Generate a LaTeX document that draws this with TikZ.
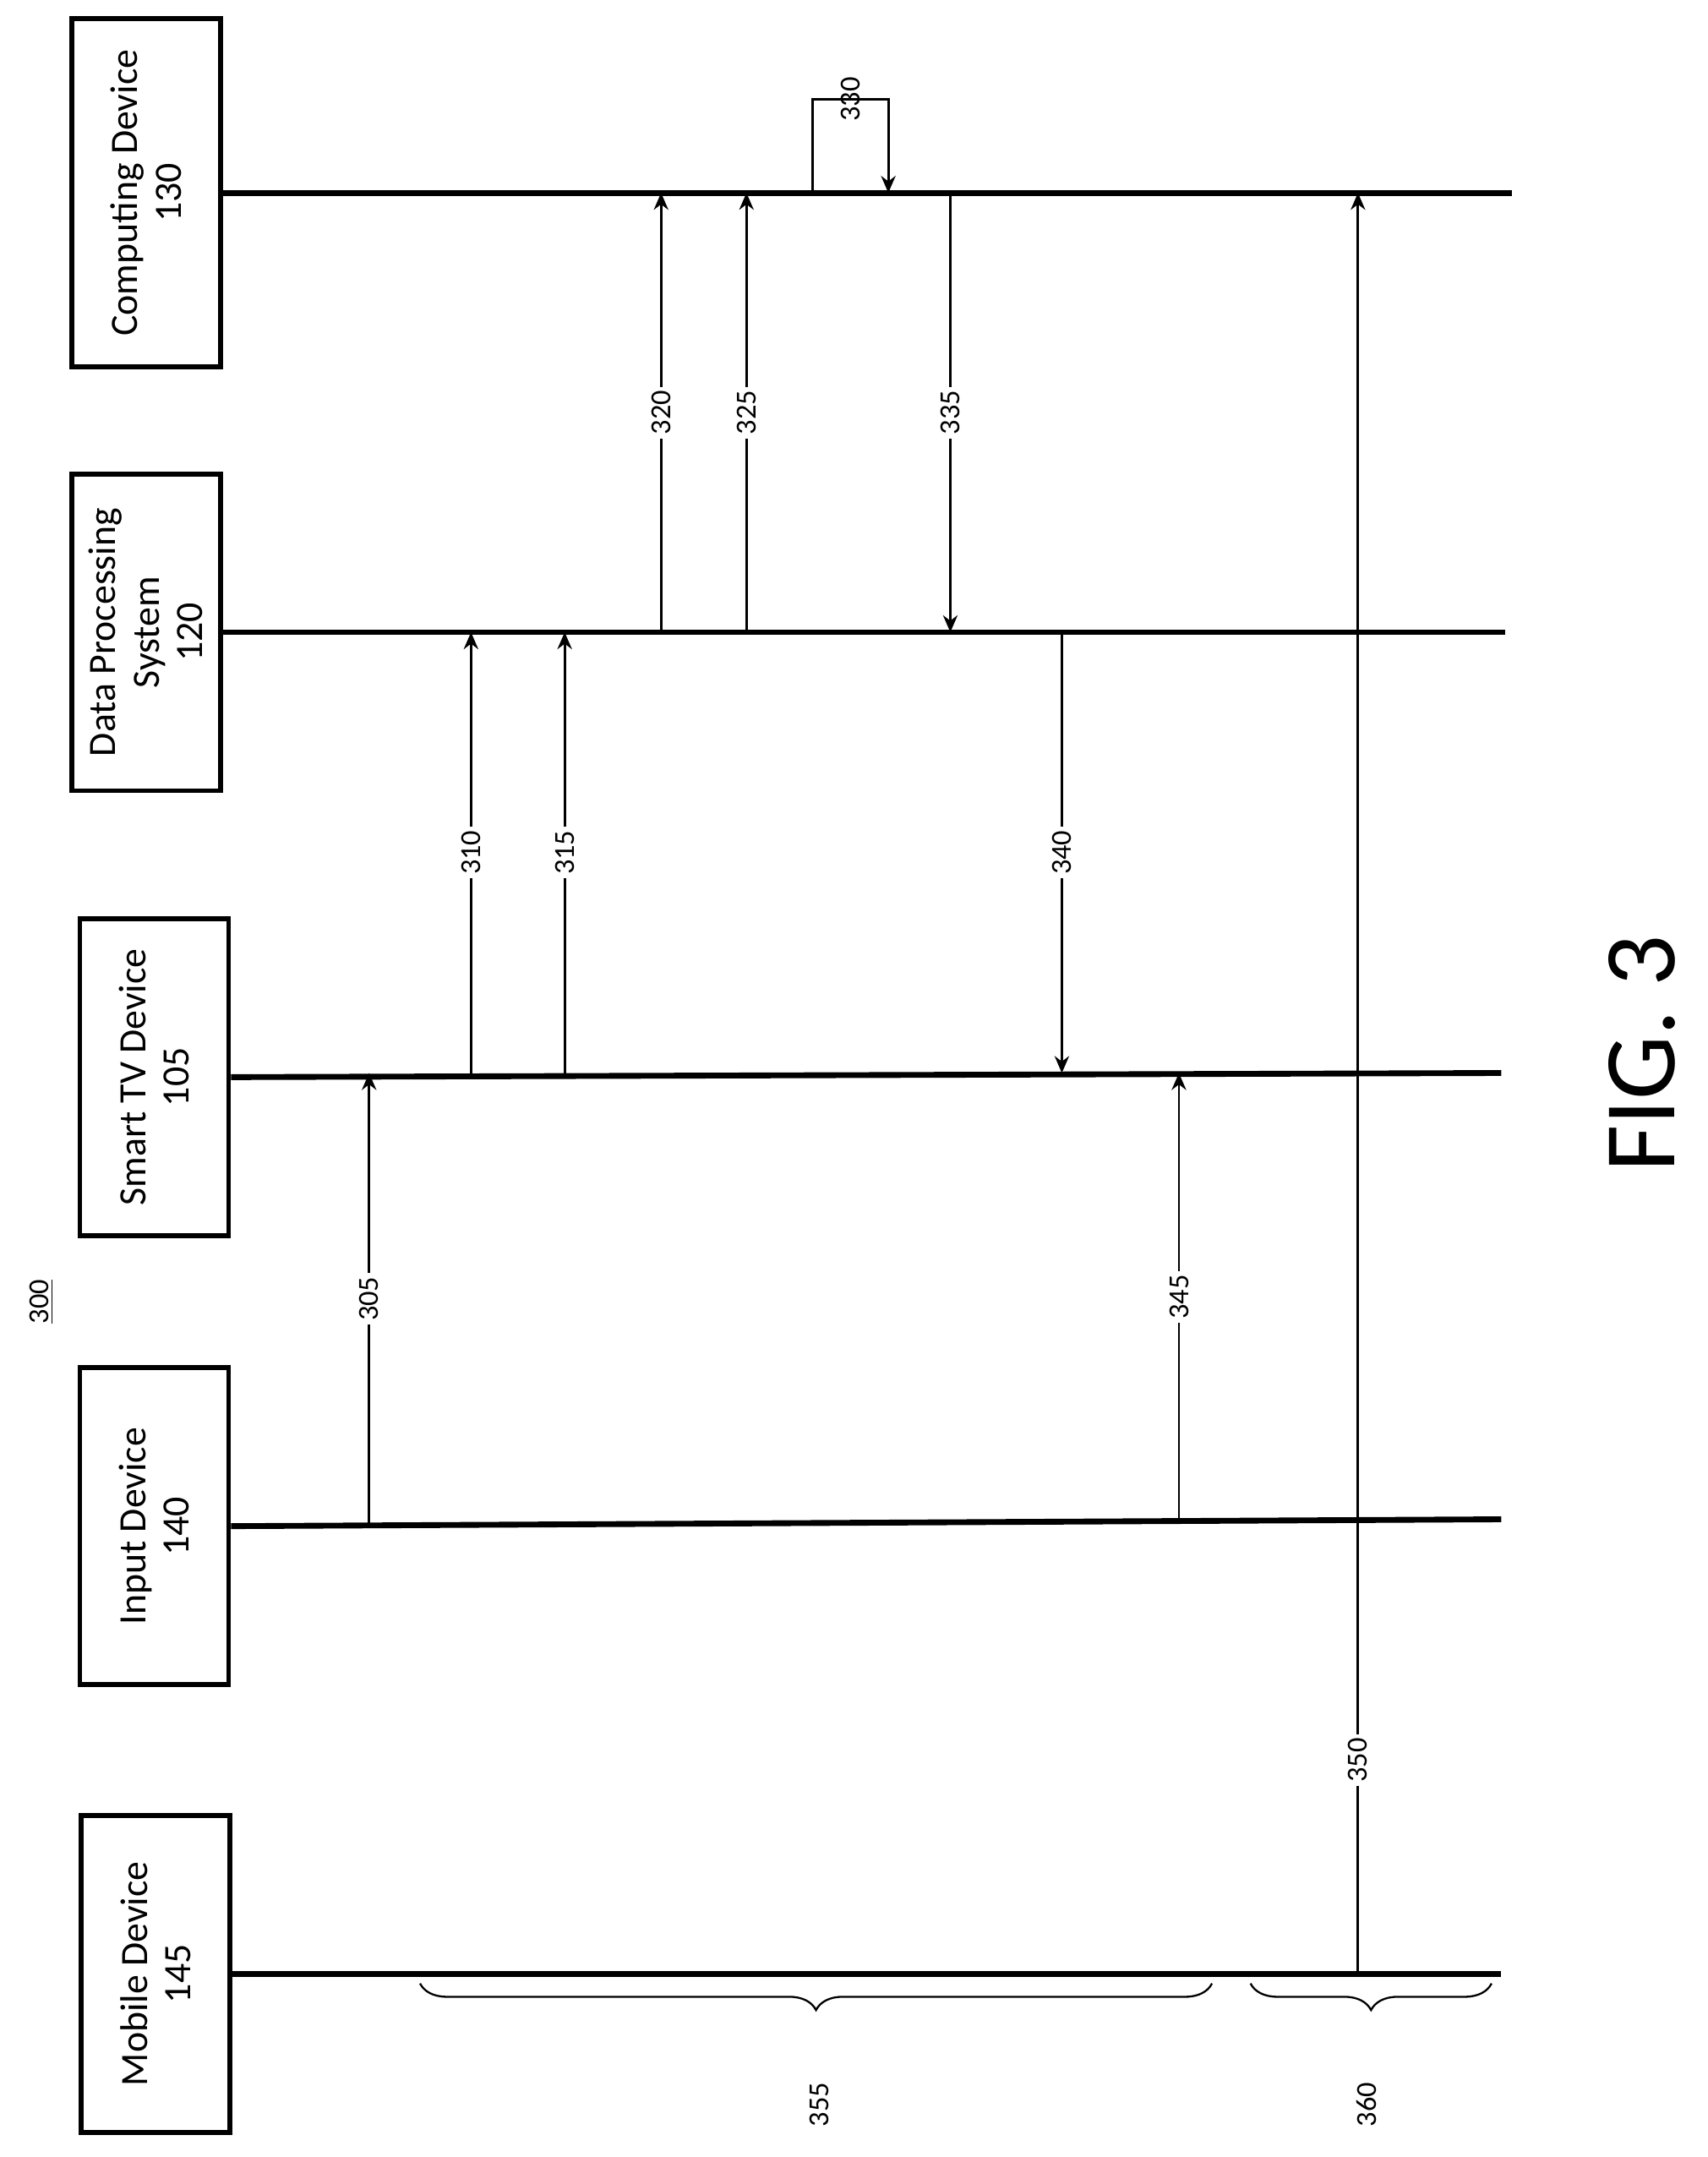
\documentclass[tikz,border=0pt]{standalone}
\usepackage{fontspec}
\setmainfont{Carlito}
\usetikzlibrary{arrows.meta,positioning,decorations.pathreplacing}

\begin{document}
\begin{tikzpicture}[x=0.02cm,y=-0.02cm,
	actor/.style={draw,line width=2pt,rotate=90,align=center,minimum width=4.6cm,minimum height=2.16cm,font=\fontsize{16}{18}\selectfont},
	life/.style={line width=2.4pt},
	msg/.style={line width=1pt,-{Stealth[length=7pt,width=6pt]}},
	lbl/.style={rotate=90,fill=white,inner sep=1.5pt,font=\fontsize{12}{14}\selectfont},
	phase/.style={decorate,decoration={brace,mirror,amplitude=11pt},line width=0.8pt}]
	\useasboundingbox (0,0) rectangle (1240,1566);
	% lifeline boxes
	\node[actor,minimum width=5.06cm] (cd) at (106,140) {Computing Device\\130};
	\node[actor] (dps) at (106,459) {Data Processing\\System\\120};
	\node[actor] (tv) at (112,782) {Smart TV Device\\105};
	\node[actor] (in) at (112,1108) {Input Device\\140};
	\node[actor] (mob) at (113,1433) {Mobile Device\\145};
	% lifelines
	\coordinate (cdE) at (1098,140);
	\coordinate (dpsE) at (1093,459);
	\coordinate (tvE) at (1090,779);
	\coordinate (inE) at (1090,1103);
	\coordinate (mobE) at (1090,1433);
	\draw[life] (cd.south) -- (cdE);
	\draw[life] (dps.south) -- (dpsE);
	\draw[life] (tv.south) -- (tvE);
	\draw[life] (in.south) -- (inE);
	\draw[life] (mob.south) -- (mobE);
	% messages
	\draw[msg] (268,1107) -- node[lbl] {305} (268,779);
	\draw[msg] (342,779) -- node[lbl] {310} (342,459);
	\draw[msg] (410,779) -- node[lbl] {315} (410,459);
	\draw[msg] (480,459) -- node[lbl] {320} (480,140);
	\draw[msg] (542,459) -- node[lbl] {325} (542,140);
	\draw[msg] (590,140) -- (590,72) -- node[lbl,fill=none] {330} (645,72) -- (645,140);
	\draw[msg] (690,140) -- node[lbl] {335} (690,459);
	\draw[msg] (771,459) -- node[lbl] {340} (771,779);
	\draw[msg] (856,1104) -- node[lbl] {345} (856,779);
	\draw[msg] (986,1433) -- node[lbl,pos=0.12] {350} (986,140);
	% phases
	\draw[phase] (305,1440) -- (880,1440);
	\draw[phase] (908,1440) -- (1083,1440);
	\node[lbl,fill=none] (p355) at (595,1528) {355};
	\node[lbl,fill=none] (p360) at (992,1528) {360};
	\node[lbl,fill=none] (num) at (30,945) {\underline{300}};
	\node[rotate=90,font=\fontsize{42}{46}\selectfont] (fig) at (1192,765) {FIG. 3};
\end{tikzpicture}
\end{document}
